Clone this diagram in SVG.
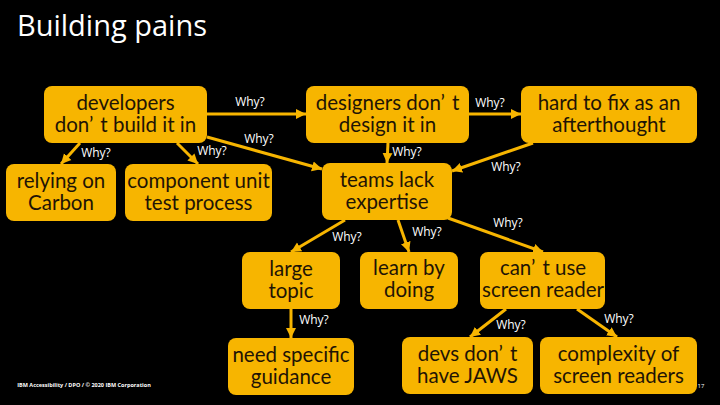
<svg xmlns="http://www.w3.org/2000/svg" width="720" height="405" viewBox="0 0 720 405">
<style>
text{font-family:"Open Sans","Noto Sans",sans-serif;text-anchor:middle}
.box{fill:#f7b500}
.t{font-family:"Lato",sans-serif;font-size:20.5px;fill:#1f1405}
.w{font-size:12px;fill:#fff}
.c line{stroke:#f7b500;stroke-width:3;marker-end:url(#a)}
</style>
<defs><marker id="a" markerUnits="userSpaceOnUse" markerWidth="12" markerHeight="12" refX="10" refY="6" orient="auto"><path d="M0 1L10 6L0 11Z" fill="#f7b500"/></marker></defs>
<rect width="720" height="405" fill="#000"/>
<text x="112" y="36" style="font-size:29px;fill:#fff">Building pains</text>
<g id="connectors" class="c">
<line x1="207" y1="114" x2="306" y2="114"/>
<line x1="80" y1="143" x2="61" y2="164"/>
<line x1="177" y1="143" x2="198" y2="164"/>
<line x1="207" y1="137" x2="322" y2="169"/>
<line x1="388" y1="143" x2="387" y2="163"/>
<line x1="469" y1="114" x2="521" y2="114"/>
<line x1="533" y1="143" x2="452" y2="171"/>
<line x1="345" y1="220" x2="291" y2="252"/>
<line x1="398" y1="220" x2="409" y2="252"/>
<line x1="448" y1="218" x2="543" y2="252"/>
<line x1="291" y1="309" x2="291" y2="338"/>
<line x1="506" y1="309" x2="470" y2="337"/>
<line x1="577" y1="309" x2="617" y2="337"/>
</g>
<g id="developers"><rect class="box" x="44" y="86" width="163" height="57" rx="8"/><text class="t" x="125.500" y="110">developers</text><text class="t" x="125.500" y="132">don’<tspan dx="7">t build it in</tspan></text></g>
<g id="relying"><rect class="box" x="6" y="164" width="110" height="57" rx="8"/><text class="t" x="61" y="188">relying on</text><text class="t" x="61" y="210">Carbon</text></g>
<g id="component"><rect class="box" x="125" y="164" width="147" height="57" rx="8"/><text class="t" x="198.500" y="188">component unit</text><text class="t" x="198.500" y="210">test process</text></g>
<g id="designers"><rect class="box" x="306" y="86" width="163" height="57" rx="8"/><text class="t" x="387.500" y="110">designers don’<tspan dx="7">t</tspan></text><text class="t" x="387.500" y="132">design it in</text></g>
<g id="hard"><rect class="box" x="521" y="86" width="176" height="57" rx="8"/><text class="t" x="609" y="110">hard to fix as an</text><text class="t" x="609" y="132">afterthought</text></g>
<g id="teams"><rect class="box" x="322" y="163" width="130" height="57" rx="8"/><text class="t" x="387" y="187">teams lack</text><text class="t" x="387" y="209">expertise</text></g>
<g id="large"><rect class="box" x="242" y="252" width="98" height="57" rx="8"/><text class="t" x="291" y="276">large</text><text class="t" x="291" y="298">topic</text></g>
<g id="learn"><rect class="box" x="360" y="252" width="98" height="57" rx="8"/><text class="t" x="409" y="275">learn by</text><text class="t" x="409" y="297">doing</text></g>
<g id="cant"><rect class="box" x="480" y="252" width="125" height="57" rx="8"/><text class="t" x="543" y="275">can’<tspan dx="7">t use</tspan></text><text class="t" x="543" y="297">screen reader</text></g>
<g id="need"><rect class="box" x="228" y="338" width="126" height="57" rx="8"/><text class="t" x="291" y="362">need specific</text><text class="t" x="291" y="384">guidance</text></g>
<g id="devs"><rect class="box" x="402" y="337" width="131" height="57" rx="8"/><text class="t" x="467.500" y="361">devs don’<tspan dx="7">t</tspan></text><text class="t" x="467.500" y="383">have JAWS</text></g>
<g id="complexity"><rect class="box" x="540" y="337" width="157" height="57" rx="8"/><text class="t" x="618.500" y="361">complexity of</text><text class="t" x="618.500" y="383">screen readers</text></g>
<g id="labels">
<text class="w" x="250" y="106">Why?</text>
<text class="w" x="259" y="143">Why?</text>
<text class="w" x="96" y="157">Why?</text>
<text class="w" x="212" y="155">Why?</text>
<text class="w" x="407" y="156">Why?</text>
<text class="w" x="490" y="107">Why?</text>
<text class="w" x="506" y="171">Why?</text>
<text class="w" x="347" y="241">Why?</text>
<text class="w" x="427" y="236">Why?</text>
<text class="w" x="508" y="227">Why?</text>
<text class="w" x="314" y="324">Why?</text>
<text class="w" x="511" y="329">Why?</text>
<text class="w" x="619" y="323">Why?</text>
</g>
<text x="84" y="387" style="font-size:5.500px;fill:#fff;font-weight:bold">IBM Accessibility / DPO / © 2020 IBM Corporation</text>
<text x="701" y="388" style="font-size:6px;fill:#fff">17</text>
</svg>
